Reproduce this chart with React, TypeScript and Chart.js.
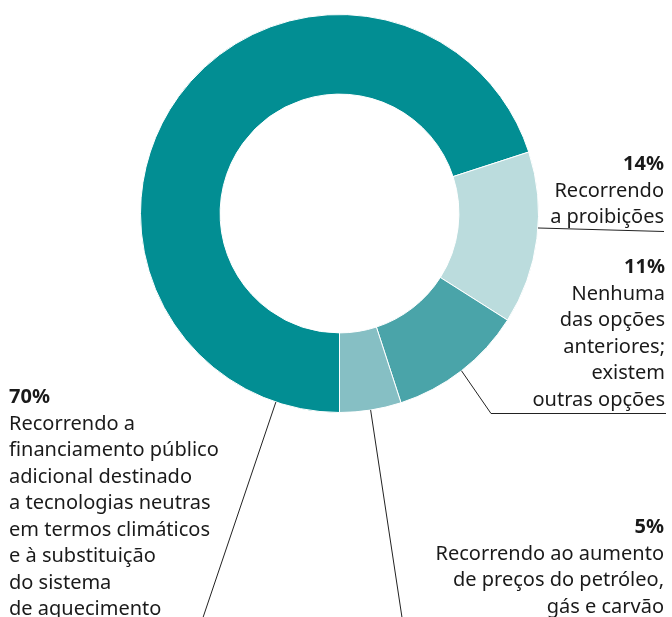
import React, { useEffect, useRef } from "react";
import { Chart, registerables } from "chart.js";

Chart.register(...registerables);

const categories = [
  "Recorrendo a financiamento público adicional destinado a tecnologias neutras em termos climáticos e à substituição do sistema de aquecimento",
  "Recorrendo a proibições",
  "Nenhuma das opções anteriores; existem outras opções",
  "Recorrendo ao aumento de preços do petróleo, gás e carvão",
];
const values = [70, 14, 11, 5];
const percentLabels = ["70%", "14%", "11%", "5%"];
const labelLines: string[][] = [
  [
    "Recorrendo a",
    "financiamento público",
    "adicional destinado",
    "a tecnologias neutras",
    "em termos climáticos",
    "e à substituição",
    "do sistema",
    "de aquecimento",
  ],
  ["Recorrendo", "a proibições"],
  ["Nenhuma", "das opções", "anteriores;", "existem", "outras opções"],
  ["Recorrendo ao aumento", "de preços do petróleo,", "gás e carvão"],
];
const colors = ["#028e93", "#bbdcdd", "#4aa4a9", "#86bfc4"];

// layout of annotations (styling, not data)
const FONT_FAMILY = "'Noto Sans', 'Open Sans', sans-serif";
const FONT_SIZE = 20;
const LINE_H = 26.5;
const annotations = [
  { anchorFrac: 0.074, path: [[203, 617]], textX: 9, firstBaseline: 403, align: "left" },
  { anchorFrac: 0.44, path: [[664, 231]], textX: 664, firstBaseline: 170, align: "right" },
  { anchorFrac: 0.5, path: [[491, 413], [666, 413]], textX: 665, firstBaseline: 273, align: "right" },
  { anchorFrac: 0.5, path: [[402, 617]], textX: 664, firstBaseline: 533, align: "right" },
];

const labelPlugin = {
  id: "calloutLabels",
  afterDraw(chart: any) {
    const ctx = chart.ctx as CanvasRenderingContext2D;
    const meta = chart.getDatasetMeta(0);
    ctx.save();
    meta.data.forEach((arc: any, i: number) => {
      const a = annotations[i];
      const { x, y, startAngle, endAngle, outerRadius } = arc.getProps(
        ["x", "y", "startAngle", "endAngle", "outerRadius"],
        true
      );
      const ang = startAngle + (endAngle - startAngle) * a.anchorFrac;
      const sx = x + Math.cos(ang) * outerRadius;
      const sy = y + Math.sin(ang) * outerRadius;
      ctx.beginPath();
      ctx.strokeStyle = "#222222";
      ctx.lineWidth = 1;
      ctx.moveTo(sx, sy);
      a.path.forEach(([px, py]) => ctx.lineTo(px, py + 0.5));
      ctx.stroke();

      ctx.fillStyle = "#1a1a1a";
      ctx.textAlign = a.align as CanvasTextAlign;
      ctx.textBaseline = "alphabetic";
      ctx.font = `bold ${FONT_SIZE}px ${FONT_FAMILY}`;
      ctx.fillText(percentLabels[i], a.textX, a.firstBaseline);
      ctx.font = `${FONT_SIZE}px ${FONT_FAMILY}`;
      labelLines[i].forEach((line, k) => {
        ctx.fillText(line, a.textX, a.firstBaseline + (k + 1) * LINE_H);
      });
    });
    ctx.restore();
  },
};

export default function App() {
  const canvasRef = useRef<HTMLCanvasElement>(null);

  useEffect(() => {
    if (!canvasRef.current) return;
    const chart = new Chart(canvasRef.current, {
      type: "doughnut",
      data: {
        labels: categories,
        datasets: [
          {
            data: values,
            backgroundColor: colors,
            borderColor: "#ffffff",
            borderWidth: 1,
          },
        ],
      },
      options: {
        responsive: false,
        maintainAspectRatio: false,
        animation: false,
        rotation: 180,
        cutout: "60%",
        layout: { padding: { left: 140, right: 133, top: 14, bottom: 204 } },
        plugins: {
          legend: { display: false },
          tooltip: { enabled: false },
        },
      },
      plugins: [labelPlugin],
    });
    return () => chart.destroy();
  }, []);

  return (
    <div style={{ position: "fixed", left: 0, top: 0, width: 672, height: 617, background: "#ffffff" }}>
      <canvas ref={canvasRef} width={672} height={617} style={{ width: 672, height: 617, display: "block" }} />
    </div>
  );
}
